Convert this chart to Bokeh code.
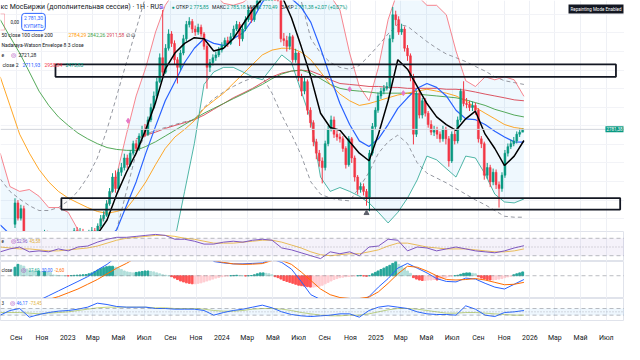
import numpy as np
import pandas as pd
from bokeh.plotting import figure
from bokeh.layouts import column
from bokeh.models import Range1d, FixedTicker, Label, Span, BoxAnnotation, ColumnDataSource
from bokeh.embed import file_html
from bokeh.resources import INLINE

# ---------------- data (weekly candles, IMOEX-like index) ----------------
week_start = "2022-08-29"
first_open = 2270
close = [2385, 2303, 2354, 2190, 2100, 2030, 2090, 2120, 2140, 2190,
         2215, 2200, 2175, 2190, 2165, 2160, 2130, 2150, 2185, 2200,
         2235, 2225, 2230, 2215, 2205, 2225, 2235, 2215, 2260, 2300,
         2318, 2380, 2447, 2524, 2462, 2550, 2575, 2627, 2591, 2653,
         2704, 2678, 2745, 2781, 2755, 2832, 2899, 2961, 3038, 3167,
         3089, 3218, 3295, 3244, 3156, 3115, 3192, 3269, 3346, 3362,
         3321, 3305, 3331, 3295, 3228, 3115, 3141, 3167, 3182, 3208,
         3233, 3259, 3244, 3280, 3321, 3346, 3269, 3321, 3372, 3424,
         3372, 3434, 3475, 3490, 3505, 3515, 3525, 3535, 3520, 3500,
         3269, 3259, 3228, 3280, 3156, 3192, 3064, 2987, 3038, 2884,
         2817, 2714, 2653, 2611, 2575, 2704, 2781, 2832, 2755, 2740,
         2730, 2678, 2591, 2730, 2627, 2524, 2457, 2473, 2447, 2416,
         2653, 2796, 2884, 2961, 2987, 3002, 3012, 3269, 3398, 3372,
         3305, 3321, 3218, 3177, 3064, 2755, 2976, 2858, 2935, 2868,
         2807, 2766, 2776, 2755, 2730, 2781, 2730, 2611, 2755, 2719,
         2832, 2986, 2920, 2915, 2899, 2910, 2884, 2730, 2704, 2534,
         2575, 2498, 2550, 2483, 2462, 2534, 2653, 2688, 2704, 2719,
         2755, 2766, 2781]
high = [2410, 2400, 2375, 2370, 2210, 2130, 2110, 2140, 2160, 2210,
        2240, 2235, 2215, 2205, 2200, 2185, 2175, 2165, 2200, 2215,
        2250, 2255, 2250, 2245, 2230, 2240, 2255, 2250, 2275, 2320,
        2340, 2400, 2465, 2545, 2560, 2570, 2600, 2650, 2645, 2670,
        2720, 2725, 2760, 2800, 2810, 2850, 2920, 2985, 3060, 3190,
        3424, 3240, 3320, 3310, 3260, 3170, 3210, 3290, 3365, 3385,
        3375, 3340, 3350, 3345, 3305, 3240, 3160, 3185, 3200, 3225,
        3250, 3275, 3280, 3300, 3340, 3365, 3360, 3340, 3390, 3440,
        3440, 3450, 3495, 3510, 3525, 3535, 3545, 3560, 3555, 3540,
        3510, 3300, 3285, 3300, 3290, 3215, 3200, 3080, 3060, 3050,
        2900, 2830, 2730, 2670, 2630, 2720, 2800, 2855, 2850, 2775,
        2760, 2745, 2690, 2745, 2740, 2640, 2535, 2495, 2490, 2460,
        2670, 2815, 2900, 2980, 3005, 3020, 3035, 3290, 3440, 3420,
        3390, 3350, 3335, 3235, 3190, 3080, 2990, 2995, 2950, 2950,
        2880, 2830, 2800, 2795, 2770, 2800, 2795, 2745, 2770, 2775,
        2850, 3000, 3040, 2950, 2935, 2930, 2925, 2895, 2745, 2715,
        2600, 2590, 2570, 2565, 2500, 2550, 2670, 2705, 2725, 2740,
        2770, 2785, 2785]
low = [2250, 2290, 2290, 2150, 2050, 1990, 2010, 2070, 2100, 2125,
       2170, 2180, 2160, 2160, 2150, 2140, 2115, 2120, 2140, 2175,
       2190, 2210, 2210, 2200, 2190, 2195, 2215, 2200, 2205, 2250,
       2285, 2310, 2370, 2440, 2440, 2450, 2530, 2560, 2570, 2580,
       2640, 2660, 2665, 2730, 2740, 2745, 2820, 2890, 2950, 3030,
       3070, 3080, 3205, 3225, 3130, 3028, 3100, 3180, 3255, 3330,
       3300, 3285, 3290, 3280, 3210, 3000, 3090, 3125, 3150, 3170,
       3195, 3220, 3225, 3235, 3270, 3310, 3230, 3255, 3310, 3360,
       3355, 3360, 3425, 3460, 3480, 3495, 3500, 3510, 3500, 3470,
       3250, 3230, 3200, 3210, 3140, 3140, 3040, 2960, 2970, 2860,
       2790, 2690, 2620, 2580, 2490, 2560, 2690, 2770, 2735, 2720,
       2710, 2660, 2570, 2580, 2600, 2500, 2430, 2440, 2425, 2370,
       2340, 2640, 2780, 2870, 2945, 2970, 2990, 3000, 3250, 3340,
       3290, 3290, 3200, 3150, 3040, 2700, 2740, 2840, 2840, 2850,
       2790, 2750, 2745, 2730, 2710, 2715, 2700, 2580, 2600, 2700,
       2705, 2820, 2905, 2895, 2880, 2880, 2860, 2710, 2680, 2510,
       2515, 2470, 2480, 2460, 2360, 2445, 2520, 2635, 2675, 2690,
       2705, 2740, 2770]
macd_hist = [90, 120, 110, 100,
             70, 60, 55, 50, 50, 45, 45, 40, 35,
             8, 5, 3, 2, 0, -2, 2, 4, 6, 8, 10, 12,
             20, 30, 45, 60, 75, 85, 95, 100, 100,
             90, 80, 65, 50, 40, 35, 30,
             35, 40, 45, 50, 50, 45, 40, 30,
             20, 10, 5, 0,
             -10, -25, -40, -55, -65, -75, -80, -85, -85, -80, -75, -65, -55, -45, -35, -25, -18, -10,
             -5, -3, 0, 3, 5, 3, 0, -3, 0, 2,
             10, 20, 30, 30, 25, 20, 10,
             -10, -20, -35, -50, -60, -70, -80, -90, -100, -105, -110, -115, -120, -120, -115, -110,
             -100, -85, -70, -55, -40, -30, -20, -15, -10,
             -8, -5, -3, 0, 3, -3, -5, 0,
             20, 35, 50, 65, 80, 95, 110, 130, 150, 120, 100, 80, 50, 25,
             -20, -35, -45, -50, -50, -45, -45, -40, -45, -35, -30, -25,
             -10, -5, 0, 5,
             15, 25, 30, 30, 25, 20,
             -10, -25, -35, -40, -45, -45, -40, -35, -30,
             -20, -12, -5,
             10, 20, 30, 40]

# indicator lines sampled every 23 days
line_start = "2022-07-25"
black_line = [2190, 2164, 2149, 2128, 2113, 2113, 2128, 2139, 2154, 2175,
              2216, 2293, 2432, 2550, 2653, 2781, 2925, 3105, 3192, 3244,
              3275, 3269, 3203, 3218, 3269, 3347, 3424, 3485, 3516, 3501,
              3382, 3228, 3064, 2868, 2791, 2776, 2714, 2653, 2612, 2755,
              2935, 3156, 3105, 3012, 2920, 2848, 2807, 2776, 2838, 2879,
              2755, 2678, 2586, 2637, 2721]
bb_basis = [2267, 2216, 2164, 2128, 2098, 2077, 2072, 2077, 2087, 2113,
            2149, 2190, 2241, 2370, 2498, 2653, 2797, 2935, 3038, 3141,
            3218, 3269, 3244, 3233, 3269, 3300, 3372, 3465, 3526, 3526,
            3485, 3439, 3357, 3218, 3064, 2920, 2807, 2719, 2689, 2730,
            2807, 2894, 2951, 3002, 3028, 3007, 2961, 2884, 2838, 2833,
            2807, 2771, 2740, 2714, 2712]
bb_upper = [2653, 2473, 2447, 2457, 2421, 2360, 2360, 2334, 2241, 2190,
            2216, 2370, 2534, 2755, 2961, 3115, 3305, 3449, 3526, 3604,
            3629, 3578, 3516, 3460, 3449, 3465, 3501, 3578, 3655, 3681,
            3681, 3655, 3604, 3552, 3501, 3424, 3192, 3012, 2935, 3115,
            3372, 3526, 3552, 3501, 3449, 3449, 3398, 3203, 3043, 3012,
            3064, 3048, 3064, 3048, 2959]
bb_lower = [2139, 2128, 2098, 2061, 2036, 2010, 1995, 1984, 1974, 1959,
            1933, 1933, 1907, 1882, 1882, 1933, 1984, 2087, 2190, 2447,
            2704, 3023, 3090, 3115, 3115, 3090, 3064, 3048, 3115, 3182,
            3141, 2987, 2833, 2524, 2447, 2468, 2447, 2421, 2385, 2334,
            2277, 2334, 2411, 2509, 2637, 2617, 2570, 2524, 2637, 2627,
            2540, 2432, 2390, 2385, 2406]
ma50 = [3064, 2910, 2755, 2653, 2565, 2498, 2447, 2411, 2385, 2360,
        2339, 2329, 2339, 2354, 2421, 2498, 2591, 2678, 2740, 2781,
        2827, 2894, 2935, 2976, 3028, 3079, 3131, 3182, 3208, 3218,
        3218, 3197, 3156, 3090, 3023, 2971, 2935, 2910, 2920, 2935,
        2951, 2966, 2976, 2987, 2997, 2987, 2976, 2961, 2935, 2899,
        2868, 2838, 2807, 2791, 2784]
ma100 = [3372, 3280, 3192, 3090, 2987, 2910, 2848, 2802, 2761, 2730,
         2704, 2683, 2673, 2668, 2668, 2689, 2714, 2745, 2776, 2807,
         2838, 2868, 2894, 2920, 2946, 2971, 2997, 3023, 3054, 3079,
         3095, 3100, 3084, 3054, 3023, 3002, 2992, 2987, 2982, 2976,
         2976, 2976, 2976, 2971, 2966, 2961, 2956, 2951, 2940, 2925,
         2910, 2889, 2874, 2858, 2848]
ma200 = [np.nan] * 14 + [2730, 2750, 2766, 2786, 2802, 2817, 2833, 2858, 2889, 2920,
                         2951, 2976, 3002, 3033, 3064, 3084, 3095, 3100, 3095, 3074,
                         3048, 3028, 3023, 3018, 3012, 3012, 3007, 3007, 3002, 3002,
                         3002, 3002, 2997, 2997, 2992, 2982, 2971, 2961, 2951, 2940, 2935]
nw_upper = [2514, 2447, 2406, 2370, 2344, 2344, 2360, 2396, 2447, 2524,
            2627, 2781, 2961, 3141, 3321, 3501, 3681, 3783, 3783, 3783,
            3783, 3783, 3783, 3783, 3783, 3783, 3783, 3783, 3783, 3783,
            3681, 3475, 3269, 3192, 3141, 3115, 3105, 3125, 3177, 3233,
            3295, 3347, 3336, 3295, 3254, 3218, 3187, 3167, 3146, 3120,
            3095, 3064, 3043, 3033, 3023]
nw_lower = [1933, 1907, 1882, 1871, 1871, 1882, 1907, 1933, 1974, 2026,
            2087, 2154, 2241, 2447, 2653, 2755, 2776, 2791, 2807, 2822,
            2833, 2899, 2946, 2982, 3012, 3038, 3059, 3064, 2976, 2858,
            2755, 2642, 2498, 2432, 2411, 2401, 2396, 2468, 2550, 2653,
            2714, 2750, 2704, 2601, 2545, 2519, 2493, 2462, 2432, 2401,
            2375, 2344, 2313, 2308, 2308]
rsi = [38.9, 45.6, 50.0, 38.9, 41.1, 38.9, 45.6, 41.1, 50.0, 52.2,
       61.1, 67.8, 72.2, 72.2, 74.4, 76.7, 78.9, 76.7, 67.8, 67.8,
       63.3, 56.7, 56.7, 61.1, 63.3, 61.1, 65.6, 67.8, 65.6, 47.8,
       43.4, 36.7, 30.0, 23.4, 38.9, 34.5, 38.9, 30.0, 50.0, 52.2,
       67.8, 65.6, 41.1, 50.0, 47.8, 41.1, 45.6, 50.0, 45.6, 41.1,
       38.9, 36.7, 41.1, 47.8, 53.0]
rsi_ma = [50.0, 47.8, 45.6, 45.6, 43.4, 41.1, 41.1, 43.4, 45.6, 47.8,
          52.2, 58.9, 65.6, 70.0, 72.2, 74.4, 76.7, 76.7, 74.4, 70.0,
          67.8, 63.3, 58.9, 58.9, 58.9, 61.1, 63.3, 65.6, 65.6, 61.1,
          54.5, 47.8, 38.9, 32.3, 30.0, 32.3, 34.5, 34.5, 38.9, 43.4,
          52.2, 58.9, 58.9, 54.5, 50.0, 47.8, 45.6, 45.6, 45.6, 43.4,
          41.1, 38.9, 38.9, 41.1, 45.6]
macd_line = [-400, -380, -350, -310, -260, -210, -160, -110, -60, -10,
             60, 120, 200, 260, 320, 380, 430, 460, 440, 400,
             350, 280, 150, 135, 125, 125, 130, 135, 175, 140,
             70, -60, -200, -250, -280, -290, -290, -270, -220, -120,
             -30, 80, 130, 80, 30, -30, -60, -65, -25, -35,
             -80, -120, -140, -90, -40]
macd_signal = [-320, -320, -310, -295, -275, -250, -220, -180, -140, -90,
               -40, 20, 80, 130, 190, 250, 310, 360, 390, 400,
               380, 320, 160, 140, 125, 120, 122, 128, 160, 160,
               120, 40, -50, -140, -200, -230, -240, -240, -225, -170,
               -80, 20, 100, 90, 50, 0, -40, -45, -40, -30,
               -45, -70, -95, -90, -70]
cci = [-100, 40, 100, -160, -80, -20, 20, 40, 80, 140,
       260, 220, 160, 140, 140, 140, 100, 100, 80, 80,
       80, 40, -100, -20, 40, 80, 140, 200, 120, 0,
       -80, -120, -140, -120, -100, -60, -60, -160, 40, 140,
       180, 140, 100, 0, -60, -80, -80, -100, 180, 80,
       -100, -140, -20, 0, 40]
cci_ma = [-20, -20, -20, -40, -60, -40, -20, 0, 40, 80,
          120, 140, 140, 140, 140, 140, 120, 120, 100, 100,
          100, 80, 40, 20, 20, 40, 80, 100, 100, 80,
          40, -20, -60, -100, -120, -120, -100, -100, -60, 0,
          60, 100, 100, 80, 40, 0, -40, -40, -20, -20,
          -40, -60, -80, -100, -100]

# drawn zones (rectangles)
zone_left = ["2022-12-03", "2022-12-17"]
zone_right = ["2026-07-24", "2026-08-03"]
zone_top = [3131, 2411]
zone_bottom = [3064, 2349]

cross_dates = ["2023-05-24", "2024-10-30", "2025-03-07"]
cross_prices = [2827, 2997, 2976]
low_mark_date = ["2024-12-09"]
low_mark_price = [2330]

tick_months = ["2022-09-01", "2022-11-01", "2023-01-01", "2023-03-01", "2023-05-01", "2023-07-01",
               "2023-09-01", "2023-11-01", "2024-01-01", "2024-03-01", "2024-05-01", "2024-07-01",
               "2024-09-01", "2024-11-01", "2025-01-01", "2025-03-01", "2025-05-01", "2025-07-01",
               "2025-09-01", "2025-11-01", "2026-01-01", "2026-03-01", "2026-05-01", "2026-07-01"]
tick_labels = ["Сен", "Ноя", "2023", "Мар", "Май", "Июл", "Сен", "Ноя", "2024", "Мар", "Май", "Июл",
               "Сен", "Ноя", "2025", "Мар", "Май", "Июл", "Сен", "Ноя", "2026", "Мар", "Май", "Июл"]


def dec_year(d):
    d = pd.DatetimeIndex(pd.to_datetime(d))
    return np.round((d.year + (d.dayofyear - 1) / 365.25).to_numpy(dtype=float), 6)


GREEN = "#089981"
RED = "#f23645"
FONT = "Roboto"
W = 624
SX = 0.975

wk_t = dec_year(pd.date_range(week_start, periods=len(close), freq="7D"))
lt = dec_year(pd.date_range(line_start, periods=len(black_line), freq="23D"))
tick_t = [float(v) for v in dec_year(tick_months)]

xr = Range1d(2022.563, 2026.614)


def mkfig(h, yr, bottom=0, axis=False):
    f = figure(width=W, height=h, x_range=xr, y_range=yr, output_backend="svg",
               toolbar_location=None, x_axis_location="below" if axis else None,
               y_axis_location=None, min_border_left=0, min_border_right=0,
               min_border_top=0, min_border_bottom=bottom)
    f.outline_line_color = "#e0e3eb"
    f.background_fill_color = "white"
    f.border_fill_color = "white"
    f.xgrid.ticker = FixedTicker(ticks=tick_t)
    f.xgrid.grid_line_color = "#eef0f5"
    f.ygrid.grid_line_color = None
    return f


def lab(f, x, y, text, color="#131722", size="5px", yu="screen", **kw):
    f.add_layout(Label(x=x, y=y, x_units="screen", y_units=yu, text=text, text_color=color,
                       text_font=FONT, text_font_size=size, text_baseline="middle", **kw))


# ---------------- main price panel ----------------
MH = 231
p = mkfig(MH, Range1d(2231, 3475))
p.outline_line_color = None
p.ygrid.ticker = FixedTicker(ticks=[2300, 2400, 2500, 2600, 2700, 2800, 2900, 3000, 3100, 3200, 3300, 3400])
p.ygrid.grid_line_color = "#f2f3f7"

p.varea(x=lt, y1=bb_lower, y2=bb_upper, fill_color="#2196f3", fill_alpha=0.07)
p.add_layout(Span(location=close[-1], dimension="width", line_color="#d1d4dc", line_width=1))

p.line(lt, nw_upper, line_color="#9598a1", line_dash="4 3", line_width=1)
p.line(lt, nw_lower, line_color="#9598a1", line_dash="4 3", line_width=1)
p.line(lt, ma200, line_color="#d84351", line_width=1, line_alpha=0.9)
p.line(lt, ma100, line_color="#43a047", line_width=1, line_alpha=0.9)
p.line(lt, ma50, line_color="#ff9800", line_width=1, line_alpha=0.85)
p.line(lt, bb_upper, line_color="#f7525f", line_width=1, line_alpha=0.7)
p.line(lt, bb_lower, line_color="#089981", line_width=1, line_alpha=0.7)
p.line(lt, bb_basis, line_color="#2962ff", line_width=1.2)

opens = np.array([first_open] + close[:-1], dtype=float)
cl = np.array(close, dtype=float)
ccol = np.where(cl >= opens, GREEN, RED)
csrc = ColumnDataSource(dict(t=wk_t, top=np.maximum(opens, cl), bot=np.minimum(opens, cl),
                             hi=high, lo=low, c=ccol))
p.segment("t", "lo", "t", "hi", source=csrc, line_color="c", line_width=1)
p.vbar(x="t", top="top", bottom="bot", width=0.0125, source=csrc, fill_color="c", line_color="c", line_width=0.5)

p.line(lt, black_line, line_color="#000000", line_width=1.5)

p.quad(left=dec_year(zone_left), right=dec_year(zone_right), top=zone_top, bottom=zone_bottom,
       fill_alpha=0, line_color="#131722", line_width=1.8)
p.scatter(dec_year(cross_dates), cross_prices, marker="diamond", size=5, color="#e879c8")
p.scatter(dec_year(low_mark_date), low_mark_price, marker="triangle", size=5, color="#5d606b")


def ry(r):
    return MH - r * 0.9545


# legend rows
lab(p, 0, ry(7), "кс МосБиржи (дополнительная сессия) · 1Н · RUS", size="7px")
lab(p, 158, ry(7), "⚑", color="#b388ff", size="6px")
lab(p, 171, ry(7), "●", color=GREEN, size="5px")
ohlc = [("ОТКР", 175.5, "2 775,85", 189), ("МАКС", 211.5, "2 785,18", 226),
        ("МИН", 246.5, "2 770,49", 258), ("ЗАКР", 280.5, "2 781,38", 294)]
for name, nx, val, vx in ohlc:
    lab(p, nx, ry(7), name, color="#131722")
    lab(p, vx, ry(7), val, color=GREEN)
lab(p, 314, ry(7), "+2,07 (+0,07%)", color=GREEN)

p.add_layout(BoxAnnotation(left=-6, right=4, top=ry(14), bottom=ry(31), left_units="screen",
                           right_units="screen", top_units="screen", bottom_units="screen",
                           fill_alpha=0, line_color=RED, line_width=1))
lab(p, 10, ry(22.5), "0,00", color="#131722", size="4.5px")
lab(p, 33, ry(22.5), "2 781,30\nКУПИТЬ", color="#2962ff", size="5px", text_align="center",
    border_line_color="#2962ff", border_radius=3, padding=2, background_fill_color="white")

lab(p, 1, ry(36), "50 close 100 close 200")
lab(p, 68, ry(36), "2784,29", color="#ff9800")
lab(p, 87, ry(36), "2842,26", color="#43a047")
lab(p, 106, ry(36), "2911,58", color="#d84351")
lab(p, 125, ry(36), "∅ ∅", color="#131722")

lab(p, 1, ry(47), "Nadaraya-Watson Envelope 8 3 close")
lab(p, 1, ry(57), "e")
lab(p, 10, ry(57), "◎", color="#9c27b0", size="6px")
lab(p, 18, ry(57), "2721,28", color="#131722")
lab(p, 2, ry(68), "close 2")
lab(p, 22, ry(68), "2711,93", color="#2962ff")
lab(p, 44, ry(68), "2958,84", color=RED)
lab(p, 65, ry(68), "2473,83", color=GREEN)

lab(p, W - 1, ry(9), "Repainting Mode Enabled", color="white", size="4.5px", text_align="right",
    background_fill_color="#131722", padding=2)
lab(p, W - 1, ry(135), "2781,38", color="white", size="4.5px", text_align="right",
    background_fill_color=GREEN, padding=1)

# ---------------- RSI panel ----------------
r = mkfig(30, Range1d(16.7, 85.6))
r.add_layout(BoxAnnotation(bottom=30, top=70, fill_color="#7e57c2", fill_alpha=0.08, line_color=None))
for lv, dash in ((70, "4 3"), (50, "1 2"), (30, "4 3")):
    r.add_layout(Span(location=lv, dimension="width", line_color="#787b86", line_dash=dash,
                      line_alpha=0.5, line_width=1))
r.line(lt, rsi_ma, line_color="#f3c552", line_width=1)
r.line(lt, rsi, line_color="#7e57c2", line_width=1)
lab(r, 1, 63, "e", size="4.5px", yu="data")
lab(r, 10, 63, "◎", color="#9c27b0", size="5.5px", yu="data")
lab(r, 16, 63, "52,96", color="#7e57c2", size="4.5px", yu="data")
lab(r, 29, 63, "45,58", color="#e0b03a", size="4.5px", yu="data")

# ---------------- MACD panel ----------------
m = mkfig(37, Range1d(-240, 150))
h = np.array(macd_hist, dtype=float)
prev = np.concatenate([[h[0]], h[:-1]])
hcol = np.where(h >= 0, np.where(h >= prev, "#26a69a", "#b2dfdb"),
                np.where(h < prev, "#ff5252", "#ffcdd2"))
m.add_layout(Span(location=0, dimension="width", line_color="#787b86", line_dash="4 3",
                  line_alpha=0.5, line_width=1))
m.vbar(x=wk_t, top=h, bottom=0, width=0.0125, color=hcol)
m.line(lt, macd_line, line_color="#2962ff", line_width=1)
m.line(lt, macd_signal, line_color="#ff6d00", line_width=1)
lab(m, 1, 60, "close", size="4.5px", yu="data")
lab(m, 20, 60, "◎", color="#9c27b0", size="5.5px", yu="data")
lab(m, 28, 60, "27,69", color="#22ab94", size="4.5px", yu="data")
lab(m, 41, 60, "30,00", color="#2962ff", size="4.5px", yu="data")
lab(m, 54, 60, "-2,60", color="#ff6d00", size="4.5px", yu="data")

# ---------------- CCI panel + time axis ----------------
c = mkfig(46, Range1d(-260, 400), bottom=14, axis=True)
c.add_layout(BoxAnnotation(bottom=-100, top=100, fill_color="#2196f3", fill_alpha=0.08, line_color=None))
for lv, dash in ((100, "4 3"), (0, "1 2"), (-100, "4 3")):
    c.add_layout(Span(location=lv, dimension="width", line_color="#787b86", line_dash=dash,
                      line_alpha=0.5, line_width=1))
c.line(lt, cci_ma, line_color="#c9d67c", line_width=1)
c.line(lt, cci, line_color="#2962ff", line_width=1)
lab(c, 1, 280, "3", size="4.5px", yu="data")
lab(c, 9, 280, "◎", color="#9c27b0", size="5.5px", yu="data")
lab(c, 16, 280, "46,17", color="#2962ff", size="4.5px", yu="data")
lab(c, 29, 280, "-73,45", color="#e0b03a", size="4.5px", yu="data")

ax = c.xaxis[0]
ax.ticker = FixedTicker(ticks=tick_t)
ax.major_label_overrides = {t: l for t, l in zip(tick_t, tick_labels)}
ax.axis_line_color = None
ax.major_tick_line_color = None
ax.minor_tick_line_color = None
ax.major_label_text_font = FONT
ax.major_label_text_font_size = "7px"
ax.major_label_text_color = "#131722"
ax.major_label_standoff = 7

layout = column(p, r, m, c, spacing=0)
open("out.html", "w").write(file_html(layout, INLINE))
